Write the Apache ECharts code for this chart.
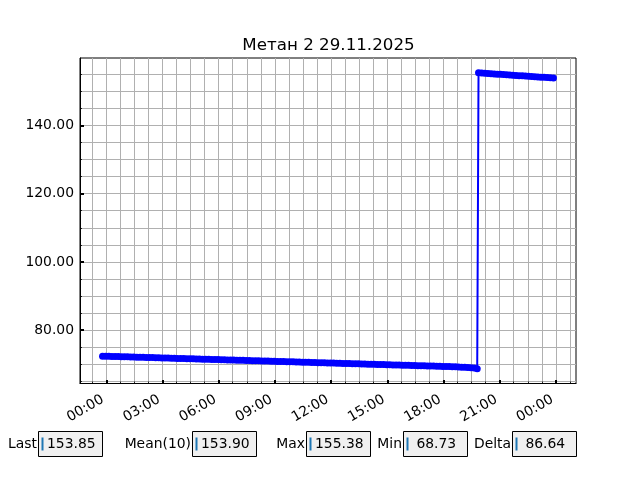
<!DOCTYPE html>
<html><head><meta charset="utf-8">
<script src="https://cdn.jsdelivr.net/npm/echarts@6/dist/echarts.min.js"></script>
<style>html,body{margin:0;padding:0;background:#fff}#c{width:640px;height:480px}</style>
</head><body><div id="c"></div><script>
const titleText = 'Метан 2 29.11.2025';
const lowStartHour = -0.2;
const highStartHour = 19.87;
const stepMinutes = 10;
const lowValues = [
 72.40, 72.38, 72.37, 72.33, 72.31, 72.29, 72.25, 72.24, 72.20, 72.17, 72.15, 72.12,
 72.09, 72.07, 72.03, 72.01, 71.98, 71.95, 71.93, 71.90, 71.86, 71.84, 71.82, 71.78,
 71.75, 71.73, 71.70, 71.67, 71.65, 71.61, 71.59, 71.56, 71.53, 71.51, 71.48, 71.45,
 71.42, 71.40, 71.37, 71.34, 71.31, 71.29, 71.26, 71.23, 71.20, 71.18, 71.15, 71.12,
 71.09, 71.06, 71.04, 71.01, 70.98, 70.95, 70.93, 70.90, 70.87, 70.84, 70.82, 70.79,
 70.76, 70.73, 70.71, 70.68, 70.65, 70.62, 70.60, 70.57, 70.54, 70.51, 70.49, 70.46,
 70.43, 70.40, 70.38, 70.35, 70.32, 70.29, 70.27, 70.24, 70.21, 70.18, 70.16, 70.13,
 70.10, 70.07, 70.05, 70.02, 69.99, 69.96, 69.94, 69.91, 69.88, 69.85, 69.83, 69.80,
 69.77, 69.74, 69.72, 69.69, 69.66, 69.63, 69.61, 69.58, 69.55, 69.52, 69.50, 69.47,
 69.44, 69.41, 69.38, 69.34, 69.31, 69.27, 69.23, 69.18, 69.13, 69.07, 69.00, 68.92,
 68.73
];
const highValues = [
 155.38, 155.31, 155.25, 155.18, 155.12, 155.06, 154.99, 154.93, 154.86, 154.80, 154.74, 154.67,
 154.61, 154.55, 154.48, 154.42, 154.36, 154.29, 154.23, 154.17, 154.10, 154.04, 153.97, 153.91,
 153.85
];
const xLabelHours = [0, 3, 6, 9, 12, 15, 18, 21, 24];
const xGridHours = [-0.75, 0, 0.75, 1.5, 2.25, 3, 3.75, 4.5, 5.25, 6, 6.75, 7.5, 8.25, 9, 9.75,
  10.5, 11.25, 12, 12.75, 13.5, 14.25, 15, 15.75, 16.5, 17.25, 18, 18.75, 19.5, 20.25, 21,
  21.75, 22.5, 23.25, 24, 24.75];
const yLabelValues = [80, 100, 120, 140];
const yGridValues = [65, 70, 75, 80, 85, 90, 95, 100, 105, 110, 115, 120, 125, 130, 135, 140, 145, 150, 155];
const statLabels = ['Last', 'Mean(10)', 'Max', 'Min', 'Delta'];
const statValues = ['153.85', '153.90', '155.38', ' 68.73', ' 86.64'];

const seriesData = lowValues.map((v, i) => [lowStartHour + i * stepMinutes / 60, v])
  .concat(highValues.map((v, i) => [highStartHour + i * stepMinutes / 60, v]));
const allValues = lowValues.concat(highValues);
const tMin = seriesData[0][0], tMax = seriesData[seriesData.length - 1][0];
const vMin = Math.min(...allValues), vMax = Math.max(...allValues);
const tPad = (tMax - tMin) * 0.05, vPad = (vMax - vMin) * 0.05;

const FONT = 'DejaVu Sans';
const fmtHour = v => String(((Math.round(v) % 24) + 24) % 24).padStart(2, '0') + ':00';

const boxX = [38.5, 192.5, 306.5, 403.5, 512.5];
const graphics = [];
statLabels.forEach((lab, i) => {
  const bx = boxX[i];
  graphics.push({type: 'text', x: bx - 1.5, y: 444, style: {text: lab, fontFamily: FONT, fontSize: 13.9, fill: '#000', align: 'right', verticalAlign: 'middle'}});
  graphics.push({type: 'rect', shape: {x: bx, y: 431.5, width: 64, height: 25}, style: {fill: '#f0f0f0', stroke: '#000', lineWidth: 1}});
  graphics.push({type: 'rect', shape: {x: bx + 3, y: 437.5, width: 2, height: 13}, style: {fill: '#1f77b4'}});
  graphics.push({type: 'text', x: bx + 8.5, y: 444, style: {text: statValues[i], fontFamily: FONT, fontSize: 13.9, fill: '#000', align: 'left', verticalAlign: 'middle'}});
});

const chart = echarts.init(document.getElementById('c'), null, {renderer: 'canvas'});
chart.setOption({
  animation: false,
  backgroundColor: '#fff',
  title: {text: titleText, left: 323.5, top: 32, textAlign: 'center',
    textStyle: {fontFamily: FONT, fontSize: 16.7, fontWeight: 'normal', color: '#000'}},
  grid: {left: 80, top: 58, width: 496, height: 325.5, show: true, borderColor: '#000', borderWidth: 1,
    backgroundColor: '#fff', containLabel: false, outerBoundsMode: 'none'},
  xAxis: [{
    type: 'value', min: tMin - tPad, max: tMax + tPad, position: 'bottom',
    axisLine: {show: true, onZero: false, lineStyle: {color: '#000', width: 1}},
    axisTick: {show: true, inside: true, length: 2, customValues: xGridHours, lineStyle: {color: '#000', width: 0.8}},
    splitLine: {show: true, lineStyle: {color: '#b0b0b0', width: 1}},
    axisLabel: {show: true, customValues: xLabelHours, rotate: 30, margin: 13, padding: [0, 4, 0, 0], formatter: fmtHour,
      fontFamily: FONT, fontSize: 13.9, color: '#000'}
  }, {
    type: 'value', min: tMin - tPad, max: tMax + tPad, position: 'bottom', offset: 0,
    axisLine: {show: false, onZero: false},
    axisTick: {show: true, inside: true, length: 3.5, customValues: xLabelHours, lineStyle: {color: '#000', width: 2}},
    splitLine: {show: false}, axisLabel: {show: false}
  }],
  yAxis: [{
    type: 'value', min: vMin - vPad, max: vMax + vPad, position: 'left',
    axisLine: {show: true, onZero: false, lineStyle: {color: '#000', width: 1}},
    axisTick: {show: true, inside: true, length: 2, customValues: yGridValues, lineStyle: {color: '#000', width: 0.8}},
    splitLine: {show: true, lineStyle: {color: '#b0b0b0', width: 1}},
    axisLabel: {show: true, customValues: yLabelValues, margin: 6, formatter: v => v.toFixed(2),
      fontFamily: FONT, fontSize: 13.9, color: '#000'}
  }, {
    type: 'value', min: vMin - vPad, max: vMax + vPad, position: 'left', offset: 0,
    axisLine: {show: false, onZero: false},
    axisTick: {show: true, inside: true, length: 4, customValues: yLabelValues, lineStyle: {color: '#000', width: 2}},
    splitLine: {show: false}, axisLabel: {show: false}
  }],
  series: [{
    type: 'line', xAxisIndex: 0, yAxisIndex: 0, data: seriesData,
    symbol: 'circle', symbolSize: 7, showSymbol: true, showAllSymbol: true,
    lineStyle: {color: '#0000ff', width: 2}, itemStyle: {color: '#0000ff'},
    clip: false, z: 5
  }],
  graphic: graphics
});
</script></body></html>
